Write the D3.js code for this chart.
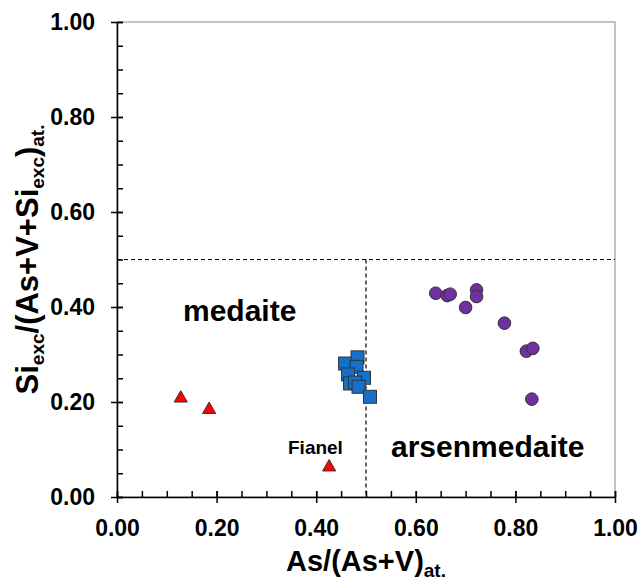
<!DOCTYPE html>
<html><head><meta charset="utf-8">
<script src="https://cdn.jsdelivr.net/npm/d3@7"></script>
<style>body{margin:0;background:#fff;} svg{display:block;font-family:"Liberation Sans",Arial,sans-serif;}</style>
</head><body>
<script>
// Data
const medaiteTriangles = [
  {x: 0.128, y: 0.210},
  {x: 0.185, y: 0.186}
];
const fianelTriangle = [{x: 0.426, y: 0.065}];
const intermediateSquares = [
  {x: 0.458, y: 0.281}, {x: 0.483, y: 0.294}, {x: 0.481, y: 0.274},
  {x: 0.464, y: 0.258}, {x: 0.496, y: 0.251}, {x: 0.468, y: 0.239},
  {x: 0.478, y: 0.241}, {x: 0.485, y: 0.232}, {x: 0.508, y: 0.211}
];
const arsenmedaiteCircles = [
  {x: 0.640, y: 0.429}, {x: 0.663, y: 0.424}, {x: 0.669, y: 0.427},
  {x: 0.722, y: 0.436}, {x: 0.722, y: 0.422}, {x: 0.700, y: 0.399},
  {x: 0.778, y: 0.366}, {x: 0.822, y: 0.307}, {x: 0.835, y: 0.313},
  {x: 0.833, y: 0.206}
];
const majorTicks = [0, 0.2, 0.4, 0.6, 0.8, 1.0];
const minorTicks = d3.range(0, 1.0001, 0.05);

const W = 643, H = 580;
const m = {left: 117, right: 28, top: 22, bottom: 83};
const svg = d3.select("body").append("svg").attr("width", W).attr("height", H);
const x = d3.scaleLinear().domain([0, 1]).range([m.left, W - m.right]);
const y = d3.scaleLinear().domain([0, 1]).range([H - m.bottom, m.top]);

// frame (top/right)
svg.append("rect").attr("x", x(0)).attr("y", y(1)).attr("width", x(1) - x(0)).attr("height", y(0) - y(1))
  .attr("fill", "none").attr("stroke", "#888").attr("stroke-width", 1);

// dashed boundaries
svg.append("line").attr("x1", x(0)).attr("x2", x(1)).attr("y1", y(0.5)).attr("y2", y(0.5))
  .attr("stroke", "#000").attr("stroke-width", 1.2).attr("stroke-dasharray", "4,3");
svg.append("line").attr("x1", x(0.5)).attr("x2", x(0.5)).attr("y1", y(0.5)).attr("y2", y(0))
  .attr("stroke", "#000").attr("stroke-width", 1.2).attr("stroke-dasharray", "4,3");

// axes
const fmt = d3.format(".2f");
const tickFont = 23;
const xAxisG = svg.append("g").attr("transform", `translate(0,${y(0)})`);
xAxisG.call(d3.axisBottom(x).tickValues(minorTicks).tickSize(-6).tickFormat(""))
  .call(g => g.select(".domain").remove());
xAxisG.append("g").call(d3.axisBottom(x).tickValues(majorTicks).tickSizeInner(6).tickSizeOuter(0).tickPadding(16.5).tickFormat(fmt))
  .call(g => g.selectAll(".tick line").attr("y1", -6))
  .call(g => g.select(".domain").attr("stroke-width", 1.5));
xAxisG.selectAll("line").attr("stroke", "#000").attr("stroke-width", 1.5);
xAxisG.selectAll("text").attr("font-size", tickFont).attr("font-weight", "bold").attr("fill", "#000")
  .attr("font-family", "Liberation Sans, Arial, sans-serif");

const yAxisG = svg.append("g").attr("transform", `translate(${x(0)},0)`);
yAxisG.call(d3.axisLeft(y).tickValues(minorTicks).tickSize(-6).tickFormat(""))
  .call(g => g.select(".domain").remove());
yAxisG.append("g").call(d3.axisLeft(y).tickValues(majorTicks).tickSizeInner(6).tickSizeOuter(0).tickPadding(16).tickFormat(fmt))
  .call(g => g.selectAll(".tick line").attr("x1", 6))
  .call(g => g.select(".domain").attr("stroke-width", 1.5));
yAxisG.selectAll("line").attr("stroke", "#000").attr("stroke-width", 1.5);
yAxisG.selectAll("text").attr("font-size", tickFont).attr("font-weight", "bold").attr("fill", "#000")
  .attr("font-family", "Liberation Sans, Arial, sans-serif");

// axis titles
const xt = svg.append("text").attr("x", x(0.5)).attr("y", 571).attr("text-anchor", "middle")
  .attr("font-size", 29).attr("font-weight", "bold");
xt.append("tspan").text("As/(As+V)");
xt.append("tspan").text("at.").attr("font-size", 19).attr("dy", 6);

const yt = svg.append("text").attr("transform", `translate(38,${y(0.5)}) rotate(-90)`).attr("text-anchor", "middle")
  .attr("font-size", 31).attr("font-weight", "bold");
yt.append("tspan").text("Si");
yt.append("tspan").text("exc").attr("font-size", 19).attr("dy", 6);
yt.append("tspan").text("/(As+V+Si").attr("dy", -6);
yt.append("tspan").text("exc").attr("font-size", 19).attr("dy", 6);
yt.append("tspan").text(")").attr("dy", -6);
yt.append("tspan").text("at.").attr("font-size", 19).attr("dy", 6);

// field labels
svg.append("text").attr("x", 183).attr("y", 321).attr("font-size", 30).attr("font-weight", "bold").text("medaite");
svg.append("text").attr("x", 391).attr("y", 457).attr("font-size", 30).attr("font-weight", "bold").text("arsenmedaite");
svg.append("text").attr("x", 288).attr("y", 454).attr("font-size", 19).attr("font-weight", "bold").text("Fianel");

// markers
const stroke = "#333";
svg.append("g").selectAll("rect").data(intermediateSquares).join("rect")
  .attr("x", d => x(d.x) - 6.5).attr("y", d => y(d.y) - 6.5).attr("width", 13).attr("height", 13)
  .attr("fill", "#1470C8").attr("stroke", stroke).attr("stroke-width", 1);
svg.append("g").selectAll("circle").data(arsenmedaiteCircles).join("circle")
  .attr("cx", d => x(d.x)).attr("cy", d => y(d.y)).attr("r", 6.3)
  .attr("fill", "#7030A0").attr("stroke", stroke).attr("stroke-width", 1);
const tri = d3.symbol().type(d3.symbolTriangle).size(75);
svg.append("g").selectAll("path").data(medaiteTriangles.concat(fianelTriangle)).join("path")
  .attr("d", tri).attr("transform", d => `translate(${x(d.x)},${y(d.y) + 1})`)
  .attr("fill", "#FF0000").attr("stroke", stroke).attr("stroke-width", 1);
</script>
</body></html>
